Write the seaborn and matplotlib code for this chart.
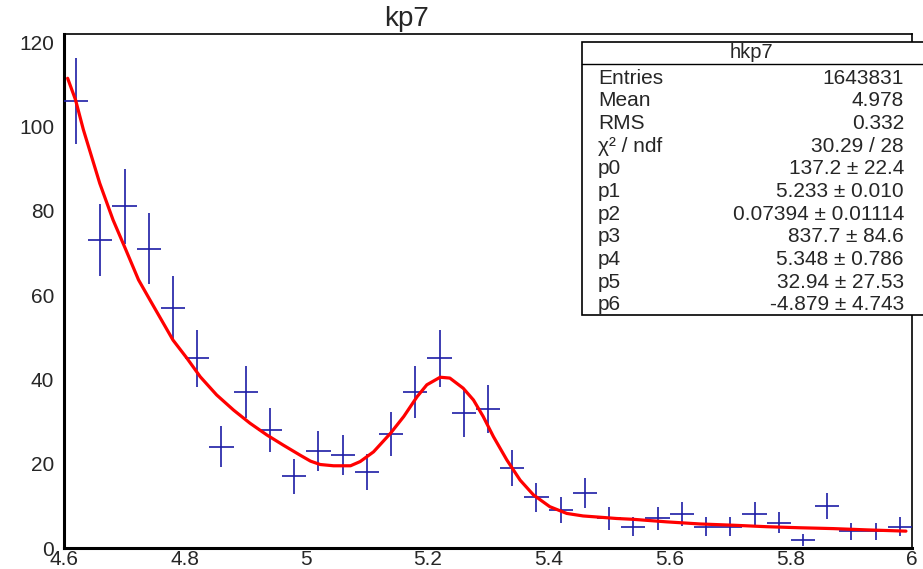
import numpy as np
import pandas as pd
import seaborn as sns
import matplotlib
matplotlib.use("Agg")
import matplotlib.pyplot as plt
from matplotlib.patches import Rectangle
from matplotlib.ticker import MultipleLocator

# ---- data ----
bin_centers = [4.62, 4.66, 4.70, 4.74, 4.78, 4.82, 4.86, 4.90, 4.94, 4.98,
               5.02, 5.06, 5.10, 5.14, 5.18, 5.22, 5.26, 5.30, 5.34, 5.38,
               5.42, 5.46, 5.50, 5.54, 5.58, 5.62, 5.66, 5.70, 5.74, 5.78,
               5.82, 5.86, 5.90, 5.94, 5.98]
counts = [106, 73, 81, 71, 57, 45, 24, 37, 28, 17,
          23, 22, 18, 27, 37, 45, 32, 33, 19, 12,
          9, 13, 7, 5, 7, 8, 5, 5, 8, 6,
          2, 10, 4, 4, 5]
bin_width = 0.04

fit_x = [4.606, 4.619, 4.632, 4.659, 4.681, 4.701, 4.723, 4.742, 4.764, 4.780,
         4.803, 4.825, 4.852, 4.880, 4.907, 4.935, 4.962, 4.990, 5.007, 5.023,
         5.045, 5.073, 5.089, 5.111, 5.139, 5.161, 5.183, 5.199, 5.221, 5.237,
         5.259, 5.276, 5.292, 5.309, 5.331, 5.353, 5.375, 5.402, 5.430, 5.457,
         5.485, 5.512, 5.540, 5.595, 5.650, 5.705, 5.760, 5.815, 5.870, 5.925,
         5.990]
fit_y = [111.4, 106.3, 99.2, 86.5, 77.8, 71.1, 63.6, 58.8, 53.3, 49.3,
         45.0, 40.6, 36.3, 32.7, 29.6, 26.8, 24.4, 22.0, 20.6, 19.8,
         19.5, 19.5, 20.5, 22.8, 27.2, 31.2, 35.9, 38.7, 40.5, 40.3,
         37.9, 35.1, 31.2, 26.4, 20.9, 16.1, 12.6, 9.8, 8.2, 7.6,
         7.3, 7.0, 6.8, 6.2, 5.7, 5.4, 5.05, 4.8, 4.6, 4.3,
         4.0]

title = "kp7"
stats_name = "hkp7"
stats_labels = ["Entries", "Mean", "RMS", "\u03c7\u00b2 / ndf", "p0", "p1", "p2",
                "p3", "p4", "p5", "p6"]
stats_values = ["1643831", "4.978", "0.332", "30.29 / 28",
                "137.2 \u00b1 22.4", "5.233 \u00b1 0.010", "0.07394 \u00b1 0.01114",
                "837.7 \u00b1 84.6", "5.348 \u00b1 0.786", "32.94 \u00b1 27.53",
                "-4.879 \u00b1 4.743"]

hist_df = pd.DataFrame({"x": bin_centers, "n": counts})
hist_df["err"] = np.sqrt(hist_df["n"])
fit_df = pd.DataFrame({"x": fit_x, "y": fit_y})

# ---- style ----
sns.set_style("white")
plt.rcParams["font.family"] = ["Liberation Sans", "DejaVu Sans"]

W, H = 923, 569
fig = plt.figure(figsize=(W / 100, H / 100), dpi=100)
ax = fig.add_axes([64 / W, 1 - 548 / H, (912 - 64) / W, (548 - 34) / H])

ax.errorbar(hist_df["x"], hist_df["n"], xerr=bin_width / 2, yerr=hist_df["err"],
            fmt="none", ecolor="#1c1ca6", elinewidth=1.2, capsize=0, zorder=3)
sns.lineplot(data=fit_df, x="x", y="y", ax=ax, color="#ff0000", linewidth=2.3,
             zorder=4, legend=False)

ax.set_xlim(4.6, 6.0)
ax.set_ylim(0, 121.9)
ax.set_xlabel("")
ax.set_ylabel("")

ax.xaxis.set_minor_locator(MultipleLocator(0.05))
ax.yaxis.set_minor_locator(MultipleLocator(5))
ax.set_xticks([4.6, 4.8, 5.0, 5.2, 5.4, 5.6, 5.8, 6.0])
ax.set_xticklabels(["4.6", "4.8", "5", "5.2", "5.4", "5.6", "5.8", "6"])
ax.set_yticks([0, 20, 40, 60, 80, 100, 120])
ax.set_yticklabels(["0", "20", "40", "60", "80", "100", "120"])

ax.tick_params(axis="x", which="major", direction="in", length=16, width=1.4,
               labelsize=15, pad=1.5, top=False)
ax.tick_params(axis="x", which="minor", direction="in", length=8, width=1.2, top=False)
ax.tick_params(axis="y", which="major", direction="in", length=25, width=1.4,
               labelsize=15, pad=7, right=False)
ax.tick_params(axis="y", which="minor", direction="in", length=13, width=1.2, right=False)

for side in ["left", "bottom"]:
    ax.spines[side].set_linewidth(2.2)
    ax.spines[side].set_color("black")
for side in ["top", "right"]:
    ax.spines[side].set_linewidth(1.2)
    ax.spines[side].set_color("black")

# title
fig.text(407 / W, 1 - 19 / H, title, ha="center", va="center", fontsize=20)

# stats box
bx0, by0, bx1, by1 = 582, 42, 926, 315
fig.patches.append(Rectangle((bx0 / W, 1 - by1 / H), (bx1 - bx0) / W, (by1 - by0) / H,
                             transform=fig.transFigure, facecolor="white",
                             edgecolor="black", linewidth=1.2, zorder=10))
fig.add_artist(plt.Line2D([bx0 / W, bx1 / W], [1 - 63.5 / H, 1 - 63.5 / H],
                          transform=fig.transFigure, color="black", linewidth=1.0,
                          zorder=11))
fig.text(751 / W, 1 - 53 / H, stats_name, ha="center", va="center", fontsize=14.5,
         zorder=12)
row_y0, row_dy = 78, 22.7
for i, (lab, val) in enumerate(zip(stats_labels, stats_values)):
    yy = 1 - (row_y0 + i * row_dy) / H
    fig.text(598 / W, yy, lab, ha="left", va="center", fontsize=15, zorder=12)
    fig.text(904 / W, yy, val, ha="right", va="center", fontsize=15, zorder=12)

fig.savefig("out.png", dpi=100)
